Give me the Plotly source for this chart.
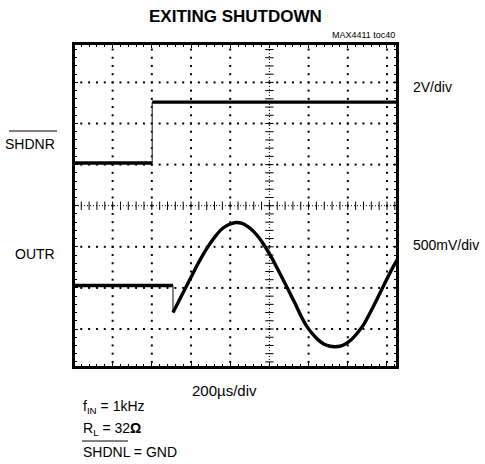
import numpy as np
import plotly.graph_objects as go

# Scope screen units: horizontal divisions (200us/div), vertical divisions
# SHDNR channel (2V/div)
shdn_low_t = [0.0, 2.01]
shdn_low_v = [5.04, 5.04]
shdn_high_t = [2.01, 8.30]
shdn_high_v = [6.52, 6.52]
shdn_edge_t = [2.01, 2.01]
shdn_edge_v = [5.04, 6.52]

# OUTR channel (500mV/div)
outr_flat_t = [0.0, 2.54]
outr_flat_v = [2.06, 2.06]
outr_step_t = [2.54, 2.54]
outr_step_v = [2.06, 1.40]
outr_t = [2.54, 2.70, 2.85, 3.00, 3.15, 3.30, 3.45, 3.60, 3.75, 3.90, 4.05, 4.16,
          4.30, 4.45, 4.60, 4.75, 4.90, 5.05, 5.20, 5.35, 5.50, 5.65, 5.80, 5.95,
          6.10, 6.25, 6.40, 6.55, 6.67, 6.80, 6.95, 7.10, 7.25, 7.40, 7.55, 7.70,
          7.85, 8.00, 8.15, 8.29]
outr_v = [1.40, 1.70, 1.98, 2.26, 2.54, 2.80, 3.03, 3.23, 3.40, 3.51, 3.57, 3.59,
          3.57, 3.49, 3.37, 3.20, 2.99, 2.75, 2.48, 2.20, 1.92, 1.63, 1.33, 1.07,
          0.88, 0.73, 0.63, 0.58, 0.57, 0.58, 0.64, 0.75, 0.91, 1.10, 1.36, 1.64,
          1.93, 2.22, 2.50, 2.73]

# Graticule
x_major = [1, 2, 3, 4, 6, 7, 8]
y_major = [1, 2, 3, 5, 6, 7]
x_center = 5
y_center = 4

X_RANGE = [0.04, 8.23]
Y_RANGE = [0.10, 7.91]

W, H = 485, 464
L, R, T, B = 75, 89, 45, 98
PW, PH = W - L - R, H - T - B

FONT = "Liberation Sans, Arial, Helvetica, sans-serif"


def px(x):
    return (x - L) / PW


def py(y):
    return (H - B - y) / PH


fig = go.Figure()

# dotted grid: dots every 1/5 division along each major line
sub_x = np.round(np.arange(0, 8.4, 0.2), 2)
sub_y = np.round(np.arange(0, 8.01, 0.2), 2)
gx, gy = [], []
for xv in x_major:
    gx += [xv] * len(sub_y)
    gy += list(sub_y)
for yv in y_major:
    gx += list(sub_x)
    gy += [yv] * len(sub_x)
fig.add_trace(go.Scatter(x=gx, y=gy, mode="markers",
                         marker=dict(symbol="square", size=2, color="black", line_width=0),
                         hoverinfo="skip", showlegend=False))

# center cross lines with tick marks
fig.add_shape(type="line", x0=X_RANGE[0], x1=X_RANGE[1], y0=y_center, y1=y_center,
              line=dict(color="black", width=1, dash="1px,2px"))
fig.add_shape(type="line", x0=x_center, x1=x_center, y0=Y_RANGE[0], y1=Y_RANGE[1],
              line=dict(color="black", width=1, dash="1px,2px"))
fig.add_trace(go.Scatter(x=list(sub_x), y=[y_center] * len(sub_x), mode="markers",
                         marker=dict(symbol="line-ns", size=6, color="black",
                                     line=dict(width=1, color="black")),
                         hoverinfo="skip", showlegend=False))
fig.add_trace(go.Scatter(x=[x_center] * len(sub_y), y=list(sub_y), mode="markers",
                         marker=dict(symbol="line-ew", size=6, color="black",
                                     line=dict(width=1, color="black")),
                         hoverinfo="skip", showlegend=False))

thick = dict(color="black", width=3.4)
thin = dict(color="#333333", width=1.2)

fig.add_trace(go.Scatter(x=shdn_low_t, y=shdn_low_v, mode="lines", line=thick,
                         showlegend=False, hoverinfo="skip"))
fig.add_trace(go.Scatter(x=shdn_edge_t, y=shdn_edge_v, mode="lines", line=thin,
                         showlegend=False, hoverinfo="skip"))
fig.add_trace(go.Scatter(x=shdn_high_t, y=shdn_high_v, mode="lines", line=thick,
                         showlegend=False, hoverinfo="skip"))
fig.add_trace(go.Scatter(x=outr_flat_t, y=outr_flat_v, mode="lines", line=thick,
                         showlegend=False, hoverinfo="skip"))
fig.add_trace(go.Scatter(x=outr_step_t, y=outr_step_v, mode="lines", line=thin,
                         showlegend=False, hoverinfo="skip"))
fig.add_trace(go.Scatter(x=outr_t, y=outr_v, mode="lines",
                         line=dict(color="black", width=3.4, shape="spline", smoothing=0.6),
                         showlegend=False, hoverinfo="skip"))

axis_common = dict(showticklabels=False, showgrid=False, zeroline=False,
                   showline=True, linewidth=3, linecolor="black", mirror="allticks",
                   ticks="inside", ticklen=3, tickwidth=1, tickcolor="black",
                   minor=dict(ticks="inside", ticklen=2, tickwidth=1, tickcolor="black"))
fig.update_xaxes(range=X_RANGE, dtick=1, tick0=0, minor_dtick=0.2, **axis_common)
fig.update_yaxes(range=Y_RANGE, dtick=1, tick0=0, minor_dtick=0.2, **axis_common)


def label(text, x, y, size=14, xanchor="left", bold=False):
    fig.add_annotation(text=f"<b>{text}</b>" if bold else text, x=px(x), y=py(y),
                       xref="paper", yref="paper", xanchor=xanchor, yanchor="middle",
                       showarrow=False, font=dict(family=FONT, size=size, color="black"))


label("EXITING SHUTDOWN", 235, 16, size=17, xanchor="center", bold=True)
label("MAX4411 toc40", 397, 35, size=9, xanchor="right")
label("2V/div", 411, 87, size=14)
label("500mV/div", 411, 245, size=14)
label("SHDNR", 57, 144, xanchor="right")
label("OUTR", 57, 254, xanchor="right")
label("200µs/div", 224, 390, size=15, xanchor="center")
label("f<sub>IN</sub> = 1kHz", 81, 407)
label("R<sub>L</sub> = 32<b>Ω</b>", 81, 429)
label("SHDNL = GND", 81, 452)

# overbars for active-low signal names
for x0, x1, y in [(9, 57, 131), (82, 128, 441)]:
    fig.add_shape(type="line", xref="paper", yref="paper",
                  x0=px(x0), x1=px(x1), y0=py(y), y1=py(y),
                  line=dict(color="black", width=1))

fig.update_layout(width=W, height=H, margin=dict(l=L, r=R, t=T, b=B),
                  paper_bgcolor="white", plot_bgcolor="white")

fig.write_html("out.html")
